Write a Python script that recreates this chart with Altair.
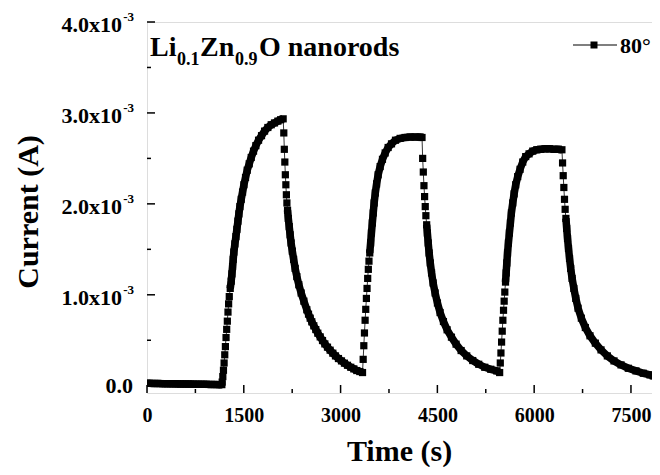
import altair as alt
import pandas as pd

# ---------------- data (current in units of 1e-3 A, time in s) ----------------
base_t = [0, 40, 80, 120, 160, 200, 240, 280, 320, 360, 400, 440, 480, 520, 560,
          600, 640, 680, 720, 760, 800, 840, 880, 920, 960, 1000, 1040, 1080, 1120, 1160]
base_i = [0.026, 0.026, 0.025, 0.025, 0.024, 0.024, 0.023, 0.023, 0.022, 0.022,
          0.021, 0.021, 0.020, 0.020, 0.019, 0.019, 0.018, 0.018, 0.017, 0.017,
          0.016, 0.016, 0.015, 0.015, 0.014, 0.014, 0.013, 0.013, 0.012, 0.012]

rise1_fast_t = [1165, 1175, 1185, 1195, 1205, 1215, 1225, 1235, 1245, 1255, 1265, 1275]
rise1_fast_i = [0.04, 0.10, 0.17, 0.25, 0.34, 0.43, 0.53, 0.62, 0.71, 0.81, 0.90, 0.98]
rise1_band_t = [1290, 1305, 1316, 1326, 1336, 1346, 1362, 1378, 1393, 1409, 1424, 1440,
                1460, 1481, 1502, 1527, 1553, 1584, 1615, 1651, 1687, 1729, 1775, 1822,
                1873, 1925, 1976, 2028, 2070, 2110]
rise1_band_i = [1.07, 1.15, 1.23, 1.31, 1.39, 1.47, 1.56, 1.64, 1.72, 1.81, 1.89, 1.97,
                2.05, 2.13, 2.21, 2.29, 2.37, 2.44, 2.51, 2.58, 2.64, 2.70, 2.75, 2.80,
                2.84, 2.87, 2.89, 2.91, 2.925, 2.935]
fall1_fast_t = [2120, 2128, 2136, 2144, 2152, 2160, 2168]
fall1_fast_i = [2.78, 2.60, 2.46, 2.32, 2.21, 2.10, 2.01]
fall1_band_t = [2178, 2190, 2204, 2218, 2233, 2252, 2272, 2296, 2322, 2353, 2389, 2431,
                2477, 2503, 2529, 2554, 2585, 2616, 2647, 2684, 2720, 2756, 2797, 2838,
                2880, 2921, 2967, 3014, 3060, 3107, 3158, 3205, 3251, 3298, 3340]
fall1_band_i = [1.93, 1.84, 1.75, 1.66, 1.57, 1.48, 1.39, 1.29, 1.20, 1.11, 1.02, 0.93,
                0.835, 0.787, 0.743, 0.703, 0.659, 0.618, 0.578, 0.537, 0.497, 0.460,
                0.424, 0.391, 0.358, 0.328, 0.299, 0.273, 0.248, 0.225, 0.203, 0.185,
                0.167, 0.156, 0.145]

rise2_fast_t = [3350, 3360, 3370, 3380, 3390, 3400, 3410, 3420, 3430, 3440]
rise2_fast_i = [0.29, 0.44, 0.58, 0.72, 0.84, 0.96, 1.07, 1.18, 1.28, 1.37]
rise2_band_t = [3452, 3465, 3478, 3492, 3506, 3520, 3538, 3558, 3582, 3613, 3649, 3691,
                3737, 3789, 3851, 3923, 4000, 4078, 4155, 4233, 4262]
rise2_band_i = [1.46, 1.57, 1.68, 1.79, 1.90, 2.01, 2.12, 2.22, 2.32, 2.41, 2.49, 2.56,
                2.62, 2.66, 2.70, 2.72, 2.73, 2.735, 2.735, 2.735, 2.73]
fall2_fast_t = [4272, 4282, 4292, 4302, 4312, 4322]
fall2_fast_i = [2.50, 2.35, 2.20, 2.08, 1.97, 1.87]
fall2_band_t = [4334, 4345, 4358, 4372, 4390, 4410, 4434, 4465, 4501, 4542, 4594, 4651,
                4718, 4790, 4868, 4955, 5048, 5141, 5234, 5327, 5420, 5465]
fall2_band_i = [1.77, 1.68, 1.57, 1.46, 1.35, 1.24, 1.13, 1.02, 0.91, 0.805, 0.706, 0.615,
                0.534, 0.457, 0.387, 0.328, 0.277, 0.236, 0.203, 0.181, 0.163, 0.145]

rise3_fast_t = [5475, 5485, 5495, 5505, 5515, 5525, 5535, 5545]
rise3_fast_i = [0.25, 0.36, 0.48, 0.60, 0.72, 0.83, 0.93, 1.03]
rise3_band_t = [5556, 5566, 5576, 5587, 5601, 5616, 5632, 5647, 5668, 5689, 5714, 5745,
                5781, 5823, 5869, 5921, 5978, 6040, 6101, 6169, 6236, 6308, 6375, 6430]
rise3_band_i = [1.14, 1.24, 1.35, 1.46, 1.57, 1.68, 1.79, 1.90, 2.01, 2.11, 2.21, 2.30,
                2.38, 2.46, 2.52, 2.55, 2.58, 2.595, 2.60, 2.605, 2.605, 2.60, 2.60, 2.595]
fall3_fast_t = [6440, 6450, 6460, 6470, 6480]
fall3_fast_i = [2.45, 2.31, 2.18, 2.05, 1.94]
fall3_band_t = [6492, 6504, 6517, 6532, 6548, 6566, 6588, 6615, 6645, 6680, 6731, 6793,
                6865, 6948, 7036, 7134, 7237, 7346, 7459, 7578, 7691, 7795, 7846]
fall3_band_i = [1.84, 1.73, 1.62, 1.51, 1.40, 1.29, 1.18, 1.07, 0.96, 0.853, 0.743, 0.640,
                0.549, 0.468, 0.394, 0.328, 0.273, 0.229, 0.192, 0.163, 0.137, 0.119, 0.108]

x_major = [0, 1500, 3000, 4500, 6000, 7500]
x_minor = [750, 2250, 3750, 5250, 6750]
y_major = [0.0, 1.0, 2.0, 3.0, 4.0]
y_minor = [0.5, 1.5, 2.5, 3.5]
series_name = "80°"
title_parts = ["Li", "0.1", "Zn", "0.9", "O nanorods"]

segments = [
    ("base", "band", base_t, base_i),
    ("r1f", "fast", rise1_fast_t, rise1_fast_i),
    ("r1b", "band", rise1_band_t, rise1_band_i),
    ("f1f", "fast", fall1_fast_t, fall1_fast_i),
    ("f1b", "band", fall1_band_t, fall1_band_i),
    ("r2f", "fast", rise2_fast_t, rise2_fast_i),
    ("r2b", "band", rise2_band_t, rise2_band_i),
    ("f2f", "fast", fall2_fast_t, fall2_fast_i),
    ("f2b", "band", fall2_band_t, fall2_band_i),
    ("r3f", "fast", rise3_fast_t, rise3_fast_i),
    ("r3b", "band", rise3_band_t, rise3_band_i),
    ("f3f", "fast", fall3_fast_t, fall3_fast_i),
    ("f3b", "band", fall3_band_t, fall3_band_i),
]
rows = []
k = 0
for name, kind, ts, cs in segments:
    for t, c in zip(ts, cs):
        rows.append({"t": t, "cur": c / 1000.0, "seg": name, "kind": kind, "k": k})
        k += 1
df = pd.DataFrame(rows)

# ---------------- chart ----------------
W, H = 505, 371
FONT = "Liberation Serif"
xs = alt.Scale(domain=[0, 7826], nice=False, zero=False)
ys = alt.Scale(domain=[-0.00008, 0.004], nice=False, zero=False)
x_axis = alt.Axis(values=x_major, title=None, domain=False, ticks=False, grid=False,
                  labelFont=FONT, labelFontSize=20, labelFontWeight="bold",
                  labelColor="black", labelPadding=12, labelFlush=False,
                  labelOverlap=False, format="d")
X = alt.X("t:Q", scale=xs, axis=x_axis)
Y = alt.Y("cur:Q", scale=ys, axis=None)

band = alt.Chart(df).transform_filter("datum.kind == 'band'").mark_line(
    color="black", strokeWidth=7.5, clip=True, strokeJoin="round"
).encode(x=X, y=Y, detail="seg:N", order="k:Q")
thin = alt.Chart(df).mark_line(color="black", strokeWidth=0.8, clip=True).encode(
    x=X, y=Y, order="k:Q")
pts = alt.Chart(df).mark_square(color="black", size=52, opacity=1, clip=True).encode(
    x=X, y=Y)

xt_major = alt.Chart(pd.DataFrame({"t": x_major})).mark_rule(
    color="black", strokeWidth=1.5).encode(x=X, y=alt.value(H), y2=alt.value(H - 8))
xt_minor = alt.Chart(pd.DataFrame({"t": x_minor})).mark_rule(
    color="black", strokeWidth=1.5).encode(x=X, y=alt.value(H), y2=alt.value(H - 4))

ydf = pd.DataFrame({"v": y_major})
ydf["cur"] = ydf["v"] / 1000.0
ymdf = pd.DataFrame({"v": y_minor})
ymdf["cur"] = ymdf["v"] / 1000.0
yt_major = alt.Chart(ydf).mark_rule(color="black", strokeWidth=1.5).encode(
    y=Y, x=alt.value(0), x2=alt.value(8))
yt_minor = alt.Chart(ymdf).mark_rule(color="black", strokeWidth=1.5).encode(
    y=Y, x=alt.value(0), x2=alt.value(4))

ylab_main = alt.Chart(ydf).transform_filter("datum.v > 0").transform_calculate(
    lab="format(datum.v, '.1f') + 'x10'"
).mark_text(font=FONT, fontSize=22, fontWeight="bold", align="right",
            baseline="middle", dy=3, color="black").encode(
    y=Y, x=alt.value(-25), text="lab:N")
ylab_sup = alt.Chart(ydf).transform_filter("datum.v > 0").transform_calculate(
    lab="'-3'"
).mark_text(font=FONT, fontSize=13, fontWeight="bold", align="right",
            baseline="middle", dy=-5, color="black").encode(
    y=Y, x=alt.value(-13), text="lab:N")
ylab_zero = alt.Chart(ydf).transform_filter("datum.v == 0").transform_calculate(
    lab="format(datum.v, '.1f')"
).mark_text(font=FONT, fontSize=22, fontWeight="bold", align="right",
            baseline="middle", dy=0, color="black").encode(
    y=Y, x=alt.value(-14), text="lab:N")

xtitle = alt.Chart(pd.DataFrame({"s": ["Time (s)"]})).mark_text(
    font=FONT, fontSize=30, fontWeight="bold", align="center", baseline="alphabetic",
    color="black").encode(x=alt.value(W / 2), y=alt.value(439), text="s:N")
ytitle = alt.Chart(pd.DataFrame({"s": ["Current (A)"]})).mark_text(
    font=FONT, fontSize=30, fontWeight="bold", align="center", baseline="alphabetic",
    angle=270, color="black").encode(x=alt.value(-109), y=alt.value(190), text="s:N")

big = 28
small = 18
ann = []
for txt, xpos, ypos, fs in [(title_parts[0], 3, 34, big), (title_parts[1], 30, 43, small),
                            (title_parts[2], 53, 34, big), (title_parts[3], 88, 43, small),
                            (title_parts[4], 112, 34, big)]:
    ann.append(alt.Chart(pd.DataFrame({"s": [txt]})).mark_text(
        font=FONT, fontSize=fs, fontWeight="bold", align="left", baseline="alphabetic",
        color="black").encode(x=alt.value(xpos), y=alt.value(ypos), text="s:N"))

one = pd.DataFrame({"s": [series_name]})
leg_line = alt.Chart(one).mark_rule(color="black", strokeWidth=1.2).encode(
    x=alt.value(426), x2=alt.value(470), y=alt.value(23))
leg_sq = alt.Chart(one).mark_square(color="black", size=49, opacity=1).encode(
    x=alt.value(447), y=alt.value(23))
leg_txt = alt.Chart(one).mark_text(font=FONT, fontSize=22, fontWeight="bold",
                                   align="left", baseline="alphabetic",
                                   color="black").encode(
    x=alt.value(473), y=alt.value(31), text="s:N")

chart = alt.layer(
    band, thin, pts, xt_major, xt_minor, yt_major, yt_minor,
    ylab_main, ylab_sup, ylab_zero, xtitle, ytitle, *ann, leg_line, leg_sq, leg_txt
).properties(
    width=W, height=H, autosize="none",
    padding={"left": 139, "top": 14, "right": 0, "bottom": 74}
).configure_view(stroke="black", strokeWidth=2).configure(background="white")

chart.save("out.html", embed_options={"renderer": "svg", "actions": False})
